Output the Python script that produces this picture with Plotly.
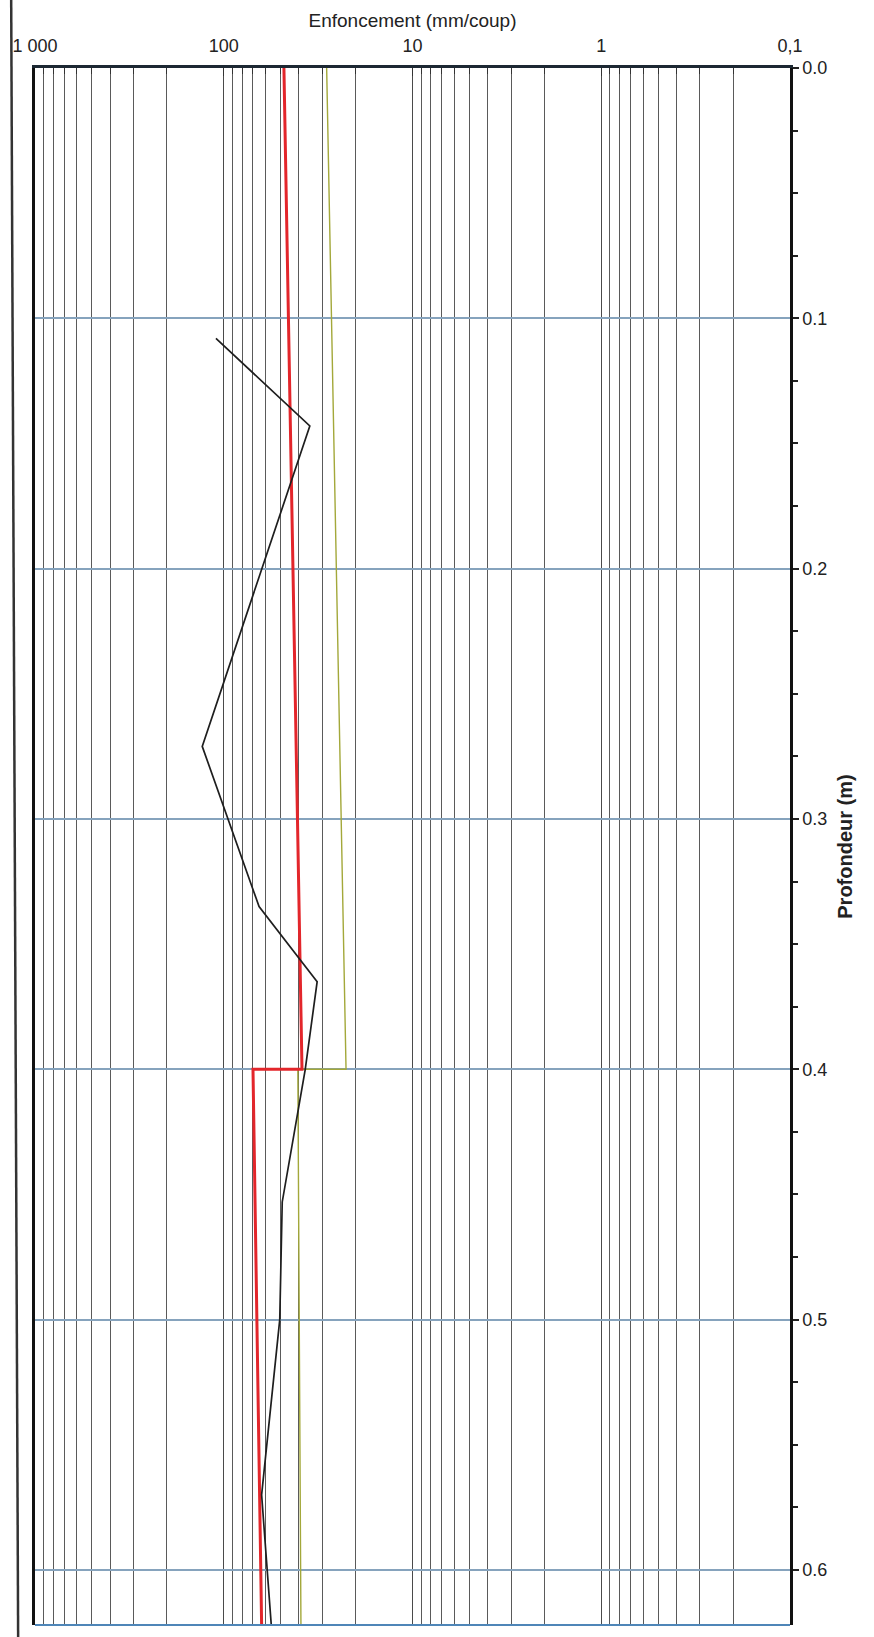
import plotly.graph_objects as go

# ---------------- data ----------------
# Red line: smoothed resistance (upper and lower layer)
red_depth = [0.0, 0.40, 0.40, 0.622]
red_val = [48.0, 38.5, 70.0, 63.0]

# Yellow-green line
green_depth = [0.0, 0.40, 0.40, 0.622]
green_val = [28.5, 22.5, 40.5, 39.0]

# Black line: measured penetration per blow
black_depth = [0.108, 0.143, 0.271, 0.335, 0.365, 0.400, 0.453, 0.500, 0.570, 0.622]
black_val = [110.0, 35.0, 130.0, 65.0, 32.0, 37.0, 49.0, 50.5, 63.0, 56.0]

x_ticks = [1000, 100, 10, 1, 0.1]
x_labels = ["1 000", "100", "10", "1", "0,1"]
y_ticks = [0.0, 0.1, 0.2, 0.3, 0.4, 0.5, 0.6]
y_labels = ["0.0", "0.1", "0.2", "0.3", "0.4", "0.5", "0.6"]
depth_max = 0.622

# ---------------- figure ----------------
W, H = 874, 1637
ML, MR, MT, MB = 29, 84, 68, 12
FONT = "Liberation Sans, Arial, sans-serif"

fig = go.Figure()
fig.add_trace(go.Scatter(x=green_val, y=green_depth, mode="lines",
                         line=dict(color="#a3a83a", width=1.4), showlegend=False))
fig.add_trace(go.Scatter(x=red_val, y=red_depth, mode="lines",
                         line=dict(color="#e3262b", width=3), showlegend=False))
fig.add_trace(go.Scatter(x=black_val, y=black_depth, mode="lines",
                         line=dict(color="#1e1e1e", width=1.7), showlegend=False))

fig.update_layout(
    width=W, height=H,
    margin=dict(l=ML, r=MR, t=MT, b=MB),
    paper_bgcolor="white", plot_bgcolor="white",
    font=dict(family=FONT, color="#222", size=18),
    xaxis=dict(
        type="log", range=[3, -1], side="top",
        tickvals=x_ticks, ticktext=x_labels,
        ticks="inside", ticklen=8, tickcolor="#333", tickwidth=1.3,
        ticklabelstandoff=6,
        showgrid=True, gridcolor="#4a4a4a", gridwidth=1.4,
        minor=dict(dtick="D1", showgrid=True, gridcolor="#5a5a5a", gridwidth=1.3,
                   ticks="inside", ticklen=6, tickcolor="#333"),
        showline=True, linecolor="#1c2833", linewidth=3, mirror=False,
        zeroline=False,
        tickfont=dict(size=18),
        title=dict(text="Enfoncement (mm/coup)", font=dict(size=19), standoff=4),
    ),
    yaxis=dict(
        range=[depth_max, 0], side="right",
        tickvals=y_ticks, ticktext=y_labels,
        ticks="outside", ticklen=6, tickwidth=1.5, tickcolor="#222",
        showgrid=True, gridcolor="#86a3bd", gridwidth=1.5,
        minor=dict(dtick=0.025, tick0=0, ticks="outside", ticklen=5,
                   tickcolor="#222", showgrid=False),
        showline=True, linecolor="#111", linewidth=2.5, mirror=True,
        zeroline=False,
        tickfont=dict(size=18),
        title=dict(text="<b>Profondeur (m)</b>", font=dict(size=20), standoff=12),
    ),
)

# bottom border (blue) and page edge line at the far left
pw = W - ML - MR
ph = H - MT - MB
fig.add_shape(type="line", xref="paper", yref="paper", x0=0, x1=1, y0=0, y1=0,
              line=dict(color="#4f86b8", width=2))
fig.add_shape(type="line", xref="paper", yref="paper",
              x0=(5 - ML) / pw, x1=(12 - ML) / pw,
              y0=1 + MT / ph, y1=-MB / ph,
              line=dict(color="#333", width=2.5))

fig.write_html("out.html")
